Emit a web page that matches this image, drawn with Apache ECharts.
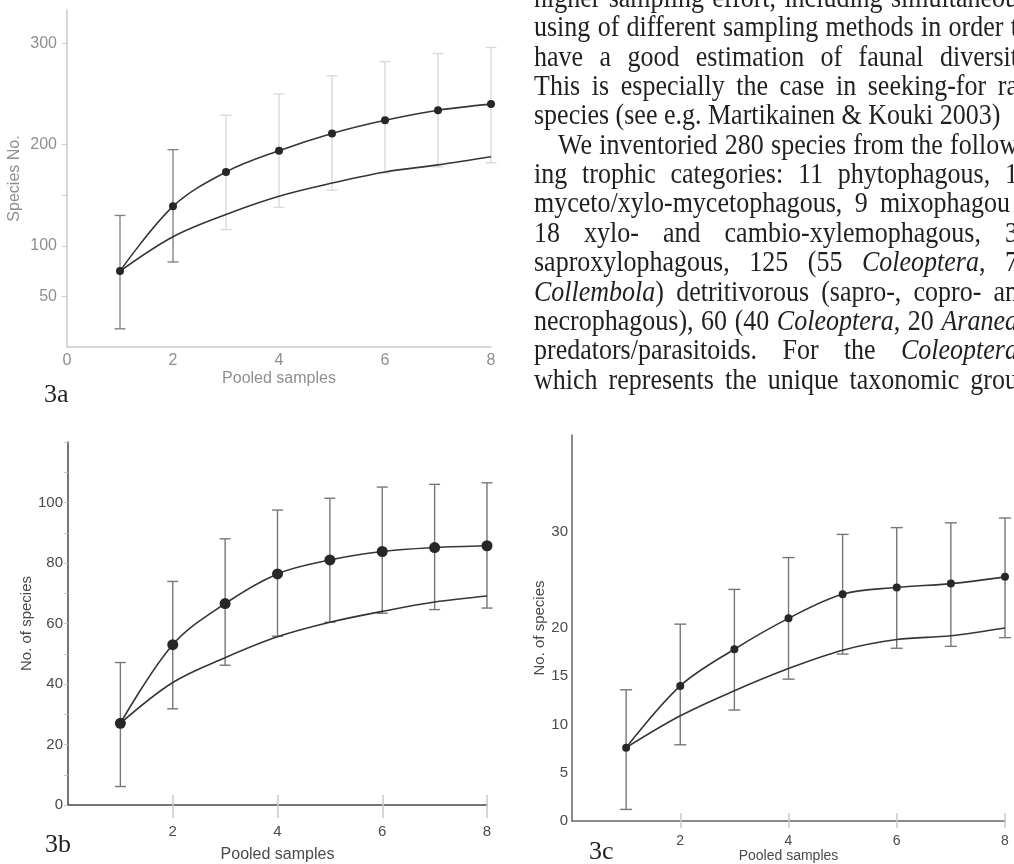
<!DOCTYPE html>
<html>
<head>
<meta charset="utf-8">
<script src="https://cdn.jsdelivr.net/npm/echarts@6/dist/echarts.min.js"></script>
<style>
  html, body { margin: 0; padding: 0; background: #fff; overflow: hidden; }
  #main { position: absolute; left: 0; top: 0; width: 1014px; height: 864px; }
  #text { position: absolute; left: 0; top: 0; width: 1014px; height: 864px; overflow: hidden; pointer-events: none;
          font-family: "Liberation Serif", "Times New Roman", serif; font-size: 26px; color: #231f20; }
  .ln { position: absolute; display: flex; justify-content: space-between; white-space: nowrap; height: 26px; line-height: 26px;
        transform: scaleY(1.12); transform-origin: 0 20.5px; }
</style>
</head>
<body>
<div id="main"></div>
<div id="text"></div>
<script>
// pooled samples (x)
const samples = [1, 2, 3, 4, 5, 6, 7, 8];

// 3a
const aObserved = [75, 139, 173, 194, 211, 224, 234, 240];
const aEstimated = [75, 109, 131, 149, 162, 173, 180, 188];
const aErrLow = [18, 84, 116, 138, 155, 172, 178, 182];
const aErrHigh = [130, 195, 229, 250, 268, 282, 290, 296];

// 3b
const bObserved = [27, 53, 66.6, 76.4, 81, 83.8, 85.1, 85.7];
const bEstimated = [27, 40.5, 48.7, 55.6, 60.4, 64, 67.1, 69.1];
const bErrLow = [6.1, 31.8, 46.2, 55.8, 60.4, 63.4, 64.6, 65.1];
const bErrHigh = [47.1, 73.9, 88, 97.5, 101.4, 105.1, 106, 106.5];

// 3c
const cObserved = [7.6, 14.0, 17.8, 21.0, 23.5, 24.2, 24.6, 25.3];
const cEstimated = [7.6, 10.9, 13.5, 15.8, 17.7, 18.8, 19.2, 20.0];
const cErrLow = [1.2, 7.9, 11.5, 14.7, 17.3, 17.9, 18.1, 19.0];
const cErrHigh = [13.6, 20.4, 24.0, 27.3, 29.7, 30.4, 30.9, 31.4];

// tick labels
const aXLabels = [0, 2, 4, 6, 8];
const aYLabels = [50, 100, 200, 300];
const aYTicks = [50, 100, 150, 200, 300];
const bcXLabels = [2, 4, 6, 8];
const bYLabels = [0, 20, 40, 60, 80, 100];
const cYLabels = [0, 5, 10, 15, 20, 30];

// the paragraph beside 3a (cut by the right edge)
const textLines = [
  'higher sampling effort, including simultaneou',
  'using of different sampling methods in order t',
  'have a good estimation of faunal diversit',
  'This is especially the case in seeking-for ra',
  'species (see e.g. Martikainen &amp; Kouki 2003)',
  'We inventoried 280 species from the follow',
  'ing trophic categories: 11 phytophagous, 1',
  'myceto/xylo-mycetophagous, 9 mixophagou',
  '18 xylo- and cambio-xylemophagous, 3',
  'saproxylophagous, 125 (55 <i>Coleoptera</i>, 7',
  '<i>Collembola</i>) detritivorous (sapro-, copro- an',
  'necrophagous), 60 (40 <i>Coleoptera</i>, 20 <i>Aranea</i>',
  'predators/parasitoids. For the <i>Coleoptera</i>',
  'which represents the unique taxonomic grou'
];
// line 4 ends the paragraph (natural spacing); line 7 is cut a little shorter
const plainLines = [4];
const lineWidth = { 7: 476 };

const box = document.getElementById('text');
textLines.forEach((t, i) => {
  const d = document.createElement('div');
  d.className = 'ln';
  const indent = i === 5 ? 24 : 0;
  d.style.left = (534 + indent) + 'px';
  d.style.top = (-14 + 29.35 * i) + 'px';
  if (plainLines.includes(i)) {
    d.style.whiteSpace = 'pre';
    d.style.display = 'block';
    d.innerHTML = t;
  } else {
    d.style.width = ((lineWidth[i] || 484) - indent) + 'px';
    d.innerHTML = t.split(' ').map(w => '<span>' + w + '</span>').join('');
  }
  box.appendChild(d);
});

const SANS = 'Liberation Sans';
const LINE = '#3a3434';
const DOT = '#2b2626';

// error bar colours for 3a (first two darker like the scan)
const aBarColors = ['#8c8383', '#8c8383', '#dcd8d8', '#dcd8d8', '#dcd8d8', '#dcd8d8', '#dcd8d8', '#dcd8d8'];
const bBarColors = samples.map(() => '#7d7575');
const cBarColors = samples.map(() => '#7d7575');

function pts(arr) {
  return samples.map((x, i) => [x, arr[i]]);
}

function errorBars(xi, yi, lo, hi, capW, colors) {
  return {
    type: 'custom',
    xAxisIndex: xi,
    yAxisIndex: yi,
    z: 1,
    silent: true,
    data: samples.map((x, i) => [x, lo[i], hi[i]]),
    encode: { x: 0, y: [1, 2] },
    renderItem: function (params, api) {
      const x = api.value(0);
      const p1 = api.coord([x, api.value(1)]);
      const p2 = api.coord([x, api.value(2)]);
      const st = { stroke: colors[params.dataIndex], lineWidth: 1.4 };
      return {
        type: 'group',
        children: [
          { type: 'line', shape: { x1: p1[0], y1: p1[1], x2: p2[0], y2: p2[1] }, style: st },
          { type: 'line', shape: { x1: p1[0] - capW / 2, y1: p1[1], x2: p1[0] + capW / 2, y2: p1[1] }, style: st },
          { type: 'line', shape: { x1: p2[0] - capW / 2, y1: p2[1], x2: p2[0] + capW / 2, y2: p2[1] }, style: st }
        ]
      };
    }
  };
}

function curve(xi, yi, arr, dots, size) {
  return {
    type: 'line',
    xAxisIndex: xi,
    yAxisIndex: yi,
    z: 3,
    smooth: 0.35,
    data: pts(arr),
    symbol: dots ? 'circle' : 'none',
    symbolSize: size,
    showSymbol: dots,
    lineStyle: { color: LINE, width: 1.6 },
    itemStyle: { color: DOT }
  };
}

const chart = echarts.init(document.getElementById('main'));
chart.setOption({
  animation: false,
  backgroundColor: '#fff',
  grid: [
    { left: 67, top: 10, width: 424, height: 337 },
    { left: 68, top: 442, width: 419, height: 365 },
    { left: 572, top: 435, width: 433, height: 386 }
  ],
  xAxis: [
    { // 3a
      gridIndex: 0, type: 'value', min: 0, max: 8, position: 'bottom',
      axisLine: { lineStyle: { color: '#cfcaca', width: 1.5 } },
      axisTick: { show: false },
      splitLine: { show: false },
      axisLabel: { customValues: aXLabels, color: '#8f8f8f', fontSize: 16, fontFamily: SANS, margin: 6 },
      name: 'Pooled samples', nameLocation: 'middle', nameGap: 24,
      nameTextStyle: { color: '#8f8f8f', fontSize: 16, fontFamily: SANS }
    },
    { // 3b
      gridIndex: 1, type: 'value', min: 0, max: 8, position: 'bottom',
      axisLine: { lineStyle: { color: '#4a4545', width: 1.5 } },
      axisTick: { customValues: bcXLabels, length: 13, lineStyle: { color: '#cbc7c7', width: 1.5 } },
      splitLine: { show: false },
      axisLabel: { customValues: bcXLabels, color: '#4a4a4a', fontSize: 15, fontFamily: SANS, margin: 19 },
      name: 'Pooled samples', nameLocation: 'middle', nameGap: 42,
      nameTextStyle: { color: '#4a4a4a', fontSize: 16, fontFamily: SANS }
    },
    { // 3b ticks above the axis
      gridIndex: 1, type: 'value', min: 0, max: 8, position: 'bottom',
      axisLine: { show: false },
      axisTick: { inside: true, customValues: bcXLabels, length: 10, lineStyle: { color: '#cbc7c7', width: 1.5 } },
      axisLabel: { show: false },
      splitLine: { show: false }
    },
    { // 3c
      gridIndex: 2, type: 'value', min: 0, max: 8, position: 'bottom',
      axisLine: { lineStyle: { color: '#6b6464', width: 1.5 } },
      axisTick: { customValues: bcXLabels, length: 7, lineStyle: { color: '#cbc7c7', width: 1.5 } },
      splitLine: { show: false },
      axisLabel: { customValues: bcXLabels, color: '#4a4a4a', fontSize: 14, fontFamily: SANS, margin: 13 },
      name: 'Pooled samples', nameLocation: 'middle', nameGap: 28,
      nameTextStyle: { color: '#4a4a4a', fontSize: 14, fontFamily: SANS }
    },
    { // 3c ticks above the axis
      gridIndex: 2, type: 'value', min: 0, max: 8, position: 'bottom',
      axisLine: { show: false },
      axisTick: { inside: true, customValues: bcXLabels, length: 8, lineStyle: { color: '#cbc7c7', width: 1.5 } },
      axisLabel: { show: false },
      splitLine: { show: false }
    }
  ],
  yAxis: [
    { // 3a
      gridIndex: 0, type: 'value', min: 0, max: 333,
      axisLine: { show: true, lineStyle: { color: '#cfcaca', width: 1.5 } },
      axisTick: { show: true, customValues: aYTicks, length: 5, lineStyle: { color: '#cfcaca' } },
      splitLine: { show: false },
      axisLabel: { customValues: aYLabels, color: '#8f8f8f', fontSize: 16, fontFamily: SANS, margin: 10 },
      name: 'Species No.', nameLocation: 'middle', nameGap: 44,
      nameTextStyle: { color: '#8f8f8f', fontSize: 16, fontFamily: SANS }
    },
    { // 3b
      gridIndex: 1, type: 'value', min: 0, max: 120, interval: 10,
      axisLine: { show: true, lineStyle: { color: '#4a4545', width: 1.5 } },
      axisTick: { show: true, length: 4, lineStyle: { color: '#c8c4c4' } },
      splitLine: { show: false },
      axisLabel: { customValues: bYLabels, color: '#4a4a4a', fontSize: 15, fontFamily: SANS, margin: 5 },
      name: 'No. of species', nameLocation: 'middle', nameGap: 25,
      nameTextStyle: { color: '#4a4a4a', fontSize: 15, fontFamily: SANS }
    },
    { // 3c
      gridIndex: 2, type: 'value', min: 0, max: 40,
      axisLine: { show: true, lineStyle: { color: '#6b6464', width: 1.5 } },
      axisTick: { show: false },
      splitLine: { show: false },
      axisLabel: { customValues: cYLabels, color: '#4a4a4a', fontSize: 15, fontFamily: SANS, margin: 4 },
      name: 'No. of species', nameLocation: 'middle', nameGap: 20,
      nameTextStyle: { color: '#4a4a4a', fontSize: 15, fontFamily: SANS }
    }
  ],
  graphic: [
    { type: 'text', left: 44, top: 382, style: { text: '3a', font: '26px "Liberation Serif"', fill: '#231f20' } },
    { type: 'text', left: 45, top: 832, style: { text: '3b', font: '26px "Liberation Serif"', fill: '#231f20' } },
    { type: 'text', left: 589, top: 839, style: { text: '3c', font: '26px "Liberation Serif"', fill: '#231f20' } }
  ],
  series: [
    errorBars(0, 0, aErrLow, aErrHigh, 11, aBarColors),
    curve(0, 0, aEstimated, false, 0),
    curve(0, 0, aObserved, true, 8),

    errorBars(1, 1, bErrLow, bErrHigh, 11, bBarColors),
    curve(1, 1, bEstimated, false, 0),
    curve(1, 1, bObserved, true, 11),

    errorBars(3, 2, cErrLow, cErrHigh, 12, cBarColors),
    curve(3, 2, cEstimated, false, 0),
    curve(3, 2, cObserved, true, 8)
  ]
});
</script>
</body>
</html>
